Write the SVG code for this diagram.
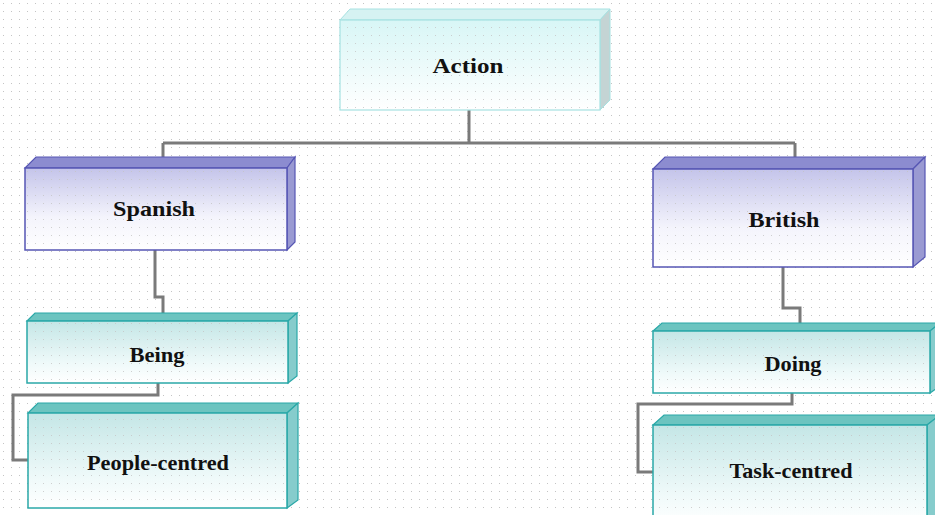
<svg xmlns="http://www.w3.org/2000/svg" width="935" height="515" viewBox="0 0 935 515">
  <defs>
    <pattern id="dots" width="8" height="8" patternUnits="userSpaceOnUse">
      <rect x="3" y="3" width="1" height="1" fill="#c4c4c4"/>
    </pattern>
    <linearGradient id="gAction" x1="0" y1="0" x2="0" y2="1">
      <stop offset="0" stop-color="#d8f6f6"/>
      <stop offset="1" stop-color="#ffffff"/>
    </linearGradient>
    <linearGradient id="gBlue" x1="0" y1="0" x2="0" y2="1">
      <stop offset="0" stop-color="#c4c4ea"/>
      <stop offset="0.6" stop-color="#f4f4fc"/>
      <stop offset="1" stop-color="#ffffff"/>
    </linearGradient>
    <linearGradient id="gTeal" x1="0" y1="0" x2="0" y2="1">
      <stop offset="0" stop-color="#c4e6e6"/>
      <stop offset="0.7" stop-color="#f0fafa"/>
      <stop offset="1" stop-color="#ffffff"/>
    </linearGradient>
    <style>
      .lbl { font-family: "Liberation Serif", "Times New Roman", serif; font-weight: bold; font-size: 21px; fill: #111; text-anchor: middle; }
      .conn { fill: none; stroke: #7a7a7a; stroke-width: 3; }
      .grid { fill: url(#dots); }
      .a-front { fill: url(#gAction); stroke: #a6e2e2; stroke-width: 1.2; }
      .a-top { fill: #d6f2f2; stroke: #a6e2e2; stroke-width: 1; }
      .a-side { fill: #c4d4d4; stroke: #a6e2e2; stroke-width: 1; }
      .b-front { fill: url(#gBlue); stroke: #5656b4; stroke-width: 1.5; }
      .b-top { fill: #8c8cd0; stroke: #5656b4; stroke-width: 1.2; }
      .b-side { fill: #9a9ad2; stroke: #5656b4; stroke-width: 1.2; }
      .t-front { fill: url(#gTeal); stroke: #2aa8a8; stroke-width: 1.5; }
      .t-top { fill: #6cc4c0; stroke: #2aa8a8; stroke-width: 1.2; }
      .t-side { fill: #86cccc; stroke: #2aa8a8; stroke-width: 1.2; }
    </style>
  </defs>

  <!-- dotted page background -->
  <rect width="935" height="515" fill="#ffffff"/>
  <rect width="935" height="515" class="grid"/>

  <!-- connectors -->
  <g id="connectors">
    <path class="conn" d="M469 110 V143 M163 143 H795 M163 143 V158 M795 143 V158"/>
    <path class="conn" d="M155 250 V297 H163 V314"/>
    <path class="conn" d="M158 383 V395 H13 V460 H28"/>
    <path class="conn" d="M783 267 V308 H800 V324"/>
    <path class="conn" d="M792 393 V404 H638 V472 H653"/>
  </g>

  <g id="action">
    <polygon class="a-top" points="340,20 350,9 610,9 600,20"/>
    <polygon class="a-side" points="600,20 610,9 610,100 600,110"/>
    <rect class="a-front" x="340" y="20" width="260" height="90"/>
    <rect class="grid" x="341" y="21" width="258" height="88" opacity="0.8"/>
    <text class="lbl" x="468" y="73" textLength="71" lengthAdjust="spacingAndGlyphs">Action</text>
  </g>

  <g id="spanish">
    <polygon class="b-top" points="25,168 36,157 295,157 287,168"/>
    <polygon class="b-side" points="287,168 295,157 295,242 287,250"/>
    <rect class="b-front" x="25" y="168" width="262" height="82"/>
    <rect class="grid" x="26" y="169" width="260" height="80" opacity="0.8"/>
    <text class="lbl" x="154" y="216" textLength="82" lengthAdjust="spacingAndGlyphs">Spanish</text>
  </g>

  <g id="british">
    <polygon class="b-top" points="653,169 665,157 925,157 913,169"/>
    <polygon class="b-side" points="913,169 925,157 925,257 913,267"/>
    <rect class="b-front" x="653" y="169" width="260" height="98"/>
    <rect class="grid" x="654" y="170" width="258" height="96" opacity="0.8"/>
    <text class="lbl" x="784" y="227" textLength="71" lengthAdjust="spacingAndGlyphs">British</text>
  </g>

  <g id="being">
    <polygon class="t-top" points="27,321 35,313 297,313 288,321"/>
    <polygon class="t-side" points="288,321 297,313 297,376 288,383"/>
    <rect class="t-front" x="27" y="321" width="261" height="62"/>
    <rect class="grid" x="28" y="322" width="259" height="60" opacity="0.8"/>
    <text class="lbl" x="157" y="362" textLength="55" lengthAdjust="spacingAndGlyphs">Being</text>
  </g>

  <g id="people-centred">
    <polygon class="t-top" points="28,413 38,403 298,403 287,413"/>
    <polygon class="t-side" points="287,413 298,403 298,500 287,508"/>
    <rect class="t-front" x="28" y="413" width="259" height="95"/>
    <rect class="grid" x="29" y="414" width="257" height="93" opacity="0.8"/>
    <text class="lbl" x="158" y="470" textLength="142" lengthAdjust="spacingAndGlyphs">People-centred</text>
  </g>

  <g id="doing">
    <polygon class="t-top" points="653,331 662,323 940,323 930,331"/>
    <polygon class="t-side" points="930,331 940,323 940,386 930,393"/>
    <rect class="t-front" x="653" y="331" width="277" height="62"/>
    <rect class="grid" x="654" y="332" width="275" height="60" opacity="0.8"/>
    <text class="lbl" x="793" y="371" textLength="57" lengthAdjust="spacingAndGlyphs">Doing</text>
  </g>

  <g id="task-centred">
    <polygon class="t-top" points="653,425 664,415 940,415 927,425"/>
    <polygon class="t-side" points="927,425 940,415 940,520 927,525"/>
    <rect class="t-front" x="653" y="425" width="274" height="100"/>
    <rect class="grid" x="654" y="426" width="272" height="98" opacity="0.8"/>
    <text class="lbl" x="791" y="478" textLength="123" lengthAdjust="spacingAndGlyphs">Task-centred</text>
  </g>
</svg>
